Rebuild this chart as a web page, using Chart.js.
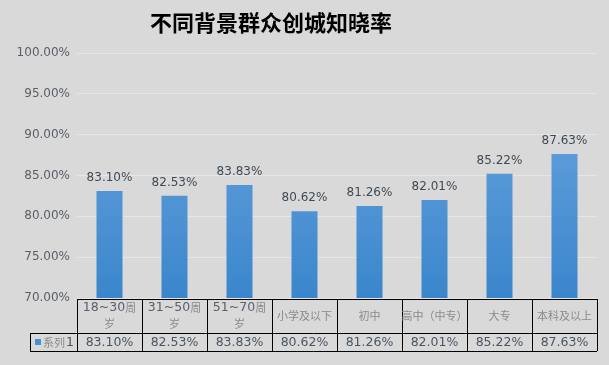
<!DOCTYPE html>
<html>
<head>
<meta charset="utf-8">
<script src="https://cdn.jsdelivr.net/npm/chart.js@4.4.0/dist/chart.umd.min.js"></script>
<style>
  html, body { margin: 0; padding: 0; background: #d9d9d9; }
  #wrap { width: 609px; height: 365px; }
</style>
</head>
<body>
<div id="wrap"><canvas id="rateChart" width="609" height="365"></canvas></div>
<script>
// chart data
const titleText = '不同背景群众创城知晓率';
const seriesName = '系列1';
const categories = ['18~30周岁', '31~50周岁', '51~70周岁', '小学及以下', '初中', '高中（中专）', '大专', '本科及以上'];
// the same labels as they wrap inside the data table
const tableLabels = [['18~30周', '岁'], ['31~50周', '岁'], ['51~70周', '岁'], ['小学及以下'], ['初中'], ['高中（中专）'], ['大专'], ['本科及以上']];
const values = [83.10, 82.53, 83.83, 80.62, 81.26, 82.01, 85.22, 87.63];
const yMin = 70, yMax = 100, yStep = 5;

const numFont = '"DejaVu Sans", sans-serif';
const cjkFont = '"Noto Sans CJK SC", sans-serif';

function pct(v) { return v.toFixed(2) + '%'; }

// bar gradient, light on top, darker at the base
function barFill(context) {
  const area = context.chart.chartArea;
  if (!area) return '#4a90d6';
  const g = context.chart.ctx.createLinearGradient(0, area.top, 0, area.bottom);
  g.addColorStop(0, '#72a9e1');
  g.addColorStop(1, '#3a86cc');
  return g;
}

// draw text with ascii in DejaVu and the rest in the CJK font, centred on cx
function mixedText(ctx, text, cx, cy) {
  const runs = [];
  for (const ch of text) {
    const ascii = ch.charCodeAt(0) < 128;
    const last = runs[runs.length - 1];
    if (last && last.ascii === ascii) last.t += ch;
    else runs.push({ ascii, t: ch });
  }
  let total = 0;
  runs.forEach(r => {
    ctx.font = r.ascii ? '12.5px ' + numFont : '11px ' + cjkFont;
    r.w = ctx.measureText(r.t).width;
    total += r.w;
  });
  let px = cx - total / 2;
  ctx.textAlign = 'left';
  runs.forEach(r => {
    ctx.font = r.ascii ? '12.5px ' + numFont : '11px ' + cjkFont;
    ctx.fillStyle = r.ascii ? '#59616b' : '#8a8a8a';
    ctx.fillText(r.t, px, cy);
    px += r.w;
  });
}

const extras = {
  id: 'extras',
  afterDatasetsDraw(chart) {
    const ctx = chart.ctx;
    const meta = chart.getDatasetMeta(0);
    ctx.save();
    // value labels above bars
    ctx.font = '12px ' + numFont;
    ctx.fillStyle = '#404a55';
    ctx.textAlign = 'center';
    ctx.textBaseline = 'bottom';
    meta.data.forEach((bar, i) => {
      ctx.fillText(pct(values[i]), bar.x, bar.y - 7);
    });
    ctx.restore();
  },
  afterDraw(chart) {
    const ctx = chart.ctx;
    const area = chart.chartArea;
    const x = chart.scales.x;
    ctx.save();

    // title
    ctx.font = 'bold 22px ' + cjkFont;
    ctx.fillStyle = '#000';
    ctx.textAlign = 'center';
    ctx.textBaseline = 'middle';
    ctx.fillText(titleText, 271, 23);

    // data table
    const top = area.bottom + 1;
    const mid = top + 34;
    const bot = mid + 18;
    const leftCol = 30;
    const half = (x.getPixelForValue(1) - x.getPixelForValue(0)) / 2;

    ctx.strokeStyle = '#000';
    ctx.lineWidth = 1;
    ctx.beginPath();
    ctx.moveTo(area.left, top + 0.5); ctx.lineTo(area.right, top + 0.5);
    ctx.moveTo(leftCol, mid + 0.5); ctx.lineTo(area.right, mid + 0.5);
    ctx.moveTo(leftCol, bot + 0.5); ctx.lineTo(area.right, bot + 0.5);
    ctx.moveTo(leftCol + 0.5, mid); ctx.lineTo(leftCol + 0.5, bot);
    for (let i = 0; i <= categories.length; i++) {
      const px = Math.round(x.getPixelForValue(i) - half) + 0.5;
      ctx.moveTo(px, top); ctx.lineTo(px, bot);
    }
    ctx.stroke();

    ctx.textBaseline = 'middle';
    categories.forEach((c, i) => {
      const cx = x.getPixelForValue(i);
      const lines = tableLabels[i];
      const lh = 16;
      const y0 = (top + mid) / 2 - (lines.length - 1) * lh / 2;
      lines.forEach((ln, k) => mixedText(ctx, ln, cx, y0 + k * lh));
      ctx.textAlign = 'center';
      ctx.font = '12.5px ' + numFont;
      ctx.fillStyle = '#4a5562';
      ctx.fillText(pct(values[i]), cx, (mid + bot) / 2 + 1);
    });

    // legend key in table
    ctx.fillStyle = '#4a8fd8';
    ctx.fillRect(35, mid + 6, 6, 6);
    ctx.font = '11px ' + cjkFont;
    ctx.fillStyle = '#8a8a8a';
    ctx.textAlign = 'left';
    ctx.fillText(seriesName.slice(0, 2), 43, (mid + bot) / 2 + 1);
    ctx.font = '12.5px ' + numFont;
    ctx.fillStyle = '#4a5562';
    ctx.fillText(seriesName.slice(2), 66, (mid + bot) / 2 + 1);
    ctx.restore();
  }
};

new Chart(document.getElementById('rateChart'), {
  type: 'bar',
  data: {
    labels: categories,
    datasets: [{
      label: seriesName,
      data: values,
      backgroundColor: barFill,
      categoryPercentage: 1,
      barPercentage: 0.4
    }]
  },
  options: {
    responsive: false,
    animation: false,
    layout: { padding: { left: 0, right: 12, top: 53, bottom: 67 } },
    plugins: { legend: { display: false }, tooltip: { enabled: false } },
    scales: {
      x: { display: false },
      y: {
        min: yMin,
        max: yMax,
        afterFit(scale) { scale.width = 77; },
        border: { display: false },
        grid: { color: '#e6e6e6', drawTicks: false },
        ticks: {
          stepSize: yStep,
          padding: 7,
          color: '#595f68',
          font: { family: numFont, size: 12 },
          callback: v => pct(v)
        }
      }
    }
  },
  plugins: [extras]
});
</script>
</body>
</html>
